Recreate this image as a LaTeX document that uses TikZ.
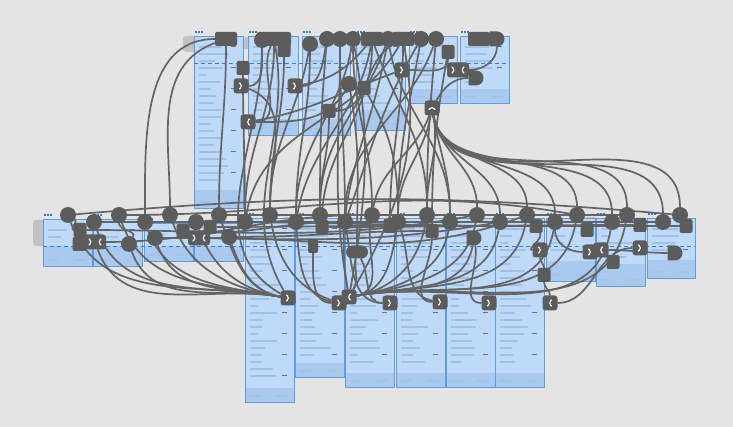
\documentclass[tikz,border=0pt]{standalone}
\usetikzlibrary{shapes.misc}

\definecolor{bgc}{HTML}{E4E4E4}
\definecolor{scr}{HTML}{BEDAF8}
\definecolor{scrfoot}{HTML}{AAC9EE}
\definecolor{scrline}{HTML}{5C9DE6}
\definecolor{guide}{HTML}{2F80E0}
\definecolor{bar}{HTML}{A3C1E5}
\definecolor{ink}{HTML}{66758A}
\definecolor{wire}{HTML}{646464}
\definecolor{knob}{HTML}{5C5C5C}
\definecolor{tag}{HTML}{C2C2C2}

\pgfdeclarelayer{base}
\pgfdeclarelayer{wires}
\pgfsetlayers{base,wires,main}

\tikzset{
  screen/.style={fill=scr, draw=none, inner sep=0pt, outer sep=0pt, rectangle, anchor=north west},
  wire/.style={draw=wire, line width=1.7pt},
  knob/.style={fill=knob, draw=none, inner sep=0pt, outer sep=0pt},
  kc/.style={knob, circle, minimum size=16pt},
  ks/.style={knob, rectangle, rounded corners=2pt, minimum width=13pt, minimum height=14pt},
  kw/.style={ks, minimum width=22pt},
  kd/.style={knob, rounded rectangle, rounded rectangle left arc=none, minimum width=15pt, minimum height=15pt},
  kp/.style={knob, rounded rectangle, minimum width=22pt, minimum height=13pt},
  hot/.style={knob, rectangle, rounded corners=3pt, minimum width=15pt, minimum height=15pt},
  glyph/.style={white, line width=1.1pt, line cap=round, line join=round},
  hotR/.style={hot, path picture={\draw[glyph] ([xshift=-1.5pt,yshift=3pt]path picture bounding box.center) -- ++(3pt,-3pt) -- ++(-3pt,-3pt);}},
  hotL/.style={hot, path picture={\draw[glyph] ([xshift=1.5pt,yshift=3pt]path picture bounding box.center) -- ++(-3pt,-3pt) -- ++(3pt,-3pt);}},
  hotU/.style={hot, path picture={\draw[glyph] ([xshift=-3pt,yshift=-1.5pt]path picture bounding box.center) -- ++(3pt,3pt) -- ++(3pt,-3pt);}},
  hotX/.style={hot, minimum width=22pt, path picture={
      \draw[glyph] ([xshift=-6pt,yshift=3pt]path picture bounding box.center) -- ++(3pt,-3pt) -- ++(-3pt,-3pt);
      \draw[glyph] ([xshift=6pt,yshift=3pt]path picture bounding box.center) -- ++(-3pt,-3pt) -- ++(3pt,-3pt);}},
}

% \screen{name}{left}{top}{width}{height}{footer height}
\newcommand\screen[6]{%
  \node[screen, minimum width=#4pt, minimum height=#5pt] (#1) at (#2,-#3) {};
  \fill[scrfoot] (#2,{-#3-#5+#6}) rectangle ({#2+#4},{-#3-#5});
  \pgfmathtruncatemacro\nbar{(#5-#6-10)/7}%
  \foreach \k in {1,...,\nbar}{%
    \pgfmathsetmacro\bw{(0.2+0.65*rnd)*(#4-12)}%
    \fill[bar] ({#2+5},{-#3-3-7*\k}) rectangle ++(\bw pt,-2pt);
    \pgfmathtruncatemacro\mm{mod(\k,3)}%
    \ifnum\mm=1 \fill[ink] ({#2+#4-12},{-#3-3-7*\k}) rectangle ++(5pt,-1pt);\fi
  }
  \fill[bar!70!scrfoot] ({#2+4},{-#3-#5+5}) rectangle ++(12pt,1.6pt);
  \fill[bar!70!scrfoot] ({#2+#4-18},{-#3-#5+5}) rectangle ++(12pt,1.6pt);
  \foreach \d in {1,4,7}{\fill[guide] ({#2+\d},{-#3+3}) rectangle ++(2pt,2pt);}
  \draw[scrline, line width=0.9pt] (#1.north west) rectangle (#1.south east);
}

\begin{document}
\begin{tikzpicture}[x=1pt,y=1pt]
\useasboundingbox (0,0) rectangle (733,-427);

\begin{pgfonlayer}{base}
  \fill[bgc] (0,0) rectangle (733,-427);
  \pgfmathsetseed{11}
  % flow start tags
  \fill[tag, rounded corners=3pt] (183,-36) rectangle (198,-52);
  \fill[tag, rounded corners=3pt] (236,-37) rectangle (250,-49);
  \fill[tag, rounded corners=3pt] (33,-220) rectangle (46,-246);
  \fill[tag, rounded corners=3pt] (282,-217) rectangle (298,-228);
  \fill[tag, rounded corners=3pt] (583,-217) rectangle (598,-232);
  % upper row of screens
  \screen{A1}{194}{36}{49}{172}{18}
  \screen{A2}{248}{36}{50}{99}{16}
  \screen{A3}{302}{36}{48}{99}{16}
  \screen{A4}{356}{36}{49}{94}{20}
  \screen{A5}{409}{36}{48}{67}{14}
  \screen{A6}{460}{36}{49}{67}{14}
  % lower row of screens
  \screen{B1}{43}{219}{49}{47}{20}
  \screen{B2}{93}{219}{49}{47}{20}
  \screen{B3}{144}{223}{49}{38}{15}
  \screen{B4}{194}{223}{49}{38}{15}
  \screen{T1}{245}{218}{49}{184}{14}
  \screen{T2}{295}{218}{49}{159}{14}
  \screen{T3}{345}{218}{49}{169}{14}
  \screen{T4}{396}{218}{49}{169}{14}
  \screen{T5}{446}{218}{49}{169}{14}
  \screen{T6}{495}{218}{49}{169}{14}
  \screen{S1}{546}{218}{49}{63}{20}
  \screen{S2}{596}{218}{49}{68}{22}
  \screen{S3}{647}{218}{48}{60}{18}
  % fold guides
  \draw[guide, line width=0.9pt, dash pattern=on 4pt off 3pt] (194,-63) -- (509,-63);
  \draw[guide, line width=0.9pt, dash pattern=on 4pt off 3pt] (43,-246) -- (695,-246);
\end{pgfonlayer}

% handles of the upper row
\node[kw] (t1) at (226,-39) {};
\node[ks] (t1b) at (243,-68) {};
\node[kc] (t2a) at (262,-40) {};
\node[kw, minimum width=34pt] (t2) at (274,-39) {};
\node[ks] (t2b) at (284,-50) {};
\node[kc] (t3) at (310,-44) {};
\node[kc] (t4) at (327,-39) {};
\node[kc] (t5) at (340,-39) {};
\node[kc] (t6) at (353,-39) {};
\node[kw] (t7) at (372,-39) {};
\node[kc] (t8) at (388,-39) {};
\node[kw] (t9) at (403,-39) {};
\node[kc] (t10) at (421,-39) {};
\node[kc] (t11) at (436,-39) {};
\node[ks] (t12) at (448,-52) {};
\node[kw] (t13) at (479,-39) {};
\node[kd] (t14) at (497,-39) {};
\node[kd] (t15) at (476,-78) {};
\node[kc] (m1) at (349,-84) {};
\node[ks] (m2) at (364,-88) {};
\node[ks] (m3) at (329,-111) {};
\node[hotR] (c1) at (241,-86) {};
\node[hotL] (c2) at (248,-122) {};
\node[hotR] (c3) at (295,-86) {};
\node[hotR] (c4) at (402,-70) {};
\node[hotX] (c5) at (458,-70) {};
\node[hotU] (c6) at (432,-108) {};

% handles of the lower row
\foreach \n/\x in {1/68,2/119,3/170,4/219,5/270,6/320,7/372,8/427,9/477,10/527,11/577,12/627,13/680}
  {\node[kc] (b\n) at (\x,-215) {};}
\foreach \n/\x in {1/94,2/145,3/196,4/245,5/296,6/345,7/398,8/450,9/500,10/555,11/612,12/663}
  {\node[kc] (e\n) at (\x,-222) {};}
\node[ks] (q1) at (80,-230) {};
\node[ks] (q2) at (79,-244) {};
\node[hotX] (x1) at (95,-242) {};
\node[kc] (q3) at (129,-244) {};
\node[kc] (q4) at (155,-238) {};
\node[ks] (q5) at (183,-231) {};
\node[hotX] (x2) at (199,-238) {};
\node[kc] (q6) at (229,-237) {};
\node[ks, minimum width=10pt] (q7) at (313,-246) {};
\node[kp] (q8) at (357,-252) {};
\node[ks] (q9) at (432,-231) {};
\node[kd] (q10) at (474,-238) {};
\node[ks] (q11) at (587,-230) {};
\node[ks] (q12) at (544,-275) {};
\node[ks] (q13) at (613,-262) {};
\node[kd] (q14) at (675,-253) {};
\node[ks] (q15) at (210,-227) {};
\node[ks] (q16) at (322,-227) {};
\node[ks] (q17) at (390,-226) {};
\node[ks] (q18) at (536,-226) {};
\node[ks] (q19) at (640,-225) {};
\node[ks] (q20) at (686,-226) {};
\node[hotR] (c9) at (288,-298) {};
\node[hotR] (c10) at (339,-303) {};
\node[hotL] (c10b) at (349,-297) {};
\node[hotR] (c11) at (390,-303) {};
\node[hotR] (c12) at (440,-302) {};
\node[hotR] (c13) at (489,-303) {};
\node[hotL] (c14) at (550,-303) {};
\node[hotR] (c15) at (540,-250) {};
\node[hotR] (c16) at (590,-252) {};
\node[hotL] (c17) at (601,-250) {};
\node[hotR] (c18) at (640,-248) {};

\begin{pgfonlayer}{wires}
  % links leaving the upper row
  \draw[wire] (t1) to[out=180,in=90] (e2);
  \draw[wire] (t1) to[out=200,in=90] (b3);
  \draw[wire] (t1) to[out=-90,in=90] (b4);
  \draw[wire] (t1b) to[out=-90,in=90] (e4);
  \draw[wire] (t2) to[out=-115,in=0] (c2);
  \draw[wire] (c2) to[out=0,in=-120] (m1);
  \draw[wire] (c2) to[out=10,in=200] (c4);
  \draw[wire] (c1) to[out=0,in=-90] (t2a);
  \draw[wire] (c3) to[out=0,in=-100] (t4);
  \draw[wire] (c3) to[out=10,in=-130] (t7);
  \draw[wire] (c4) to[out=0,in=-90] (t12);
  \draw[wire] (c5) to[out=0,in=-90] (t14);
  \draw[wire] (c6) to[out=60,in=180] (t15);
  \draw[wire] (m3) to[out=0,in=-150] (t9);
  \draw[wire] (t2b) to[out=-90,in=90] (b5);
  \draw[wire] (t3) to[out=-90,in=90] (e5);
  \draw[wire] (t4) to[out=-95,in=90] (b6);
  \draw[wire] (t5) to[out=-90,in=90] (e6);
  \draw[wire] (t6) to[out=-90,in=90] (b7);
  \draw[wire] (t7) to[out=-100,in=80] (e5);
  \draw[wire] (t8) to[out=-110,in=90] (b6);
  \draw[wire] (t9) to[out=-120,in=80] (e4);
  \draw[wire] (t10) to[out=-100,in=90] (e7);
  \draw[wire] (t11) to[out=-95,in=90] (b8);
  \draw[wire] (t2a) to[out=-90,in=150] (c9);
  \draw[wire] (t2) to[out=-80,in=120] (c9);
  \draw[wire] (t5) to[out=-90,in=100] (c10b);
  \draw[wire] (t6) to[out=-80,in=80] (c10b);
  \draw[wire] (m1) to[out=-80,in=90] (q8);
  \draw[wire] (m2) to[out=-60,in=90] (e7);
  \draw[wire] (m3) to[out=-90,in=90] (b6);
  \draw[wire] (t7) to[out=-70,in=90] (b8);
  \draw[wire] (t9) to[out=-80,in=60] (c10b);
  \draw[wire] (t10) to[out=-120,in=70] (e6);
  \draw[wire] (t8) to[out=-80,in=90] (e8);
  \draw[wire] (t12) to[out=-100,in=90] (q9);
  \draw[wire] (t3) to[out=-100,in=90] (b5);
  \draw[wire] (t6) to[out=-100,in=90] (e5);
  \draw[wire] (t7) to[out=-90,in=90] (q16);
  \draw[wire] (t8) to[out=-100,in=100] (c10b);
  \draw[wire] (t2) to[out=-90,in=90] (e4);
  \draw[wire] (t9) to[out=-90,in=90] (q17);
  \draw[wire] (t11) to[out=-110,in=90] (e6);
  \draw[wire] (c1) to[out=-20,in=90] (b5);
  % fan from the scroll hotspot
  \foreach \tg in {b8,e8,b9,e9,b10,e10,b11,e11,b12,e12,b13}
    {\draw[wire] (c6) to[out=-80,in=90] (\tg);}
  \draw[wire] (c6) to[out=-100,in=90] (e7);
  \draw[wire] (c6) to[out=-110,in=80] (b7);
  % links converging on the lower hotspots
  \foreach \src in {b1,e1,b2,e2,b3,e3,b4,q3,q4,q6,x1}
    {\draw[wire] (\src) to[out=-70,in=170] (c9);}
  \foreach \src in {b8,e8,b9,e9,b10,e10,b11,e11,b12,q10,e7,b7}
    {\draw[wire] (\src) to[out=-100,in=10] (c10b);}
  \draw[wire] (q7) to[out=-90,in=180] (c10);
  \draw[wire] (e5) to[out=-85,in=170] (c10);
  \draw[wire] (b5) to[out=-80,in=160] (c10);
  \draw[wire] (e6) to[out=-80,in=180] (c11);
  \draw[wire] (q8) to[out=-60,in=180] (c11);
  \draw[wire] (q9) to[out=-90,in=180] (c12);
  \draw[wire] (e7) to[out=-70,in=170] (c12);
  \draw[wire] (q10) to[out=-80,in=180] (c13);
  \draw[wire] (q8) to[out=-100,in=60] (c10b);
  % links around the small screens on the right
  \draw[wire] (c15) to[out=-90,in=90] (q12);
  \draw[wire] (q12) to[out=-90,in=90] (c14);
  \draw[wire] (c14) to[out=0,in=180] (c18);
  \draw[wire] (q14) to[out=180,in=0] (c17);
  \draw[wire] (e10) to[out=-90,in=180] (c16);
  \draw[wire] (q18) to[out=-60,in=180] (c15);
  % band of links along the lower row
  \draw[wire] (b1) to[out=5,in=175] (b13);
  \draw[wire] (e1) to[out=0,in=180] (e12);
  \draw[wire] (q1) to[out=0,in=190] (b9);
  \draw[wire] (x1) to[out=0,in=180] (b7);
  \draw[wire] (q4) to[out=0,in=190] (e9);
  \draw[wire] (q5) to[out=-5,in=180] (e6);
  \draw[wire] (x2) to[out=0,in=200] (b10);
  \draw[wire] (q6) to[out=0,in=180] (q9);
  \draw[wire] (b2) to[out=0,in=170] (b11);
  \draw[wire] (e3) to[out=0,in=180] (q18);
  \draw[wire] (q16) to[out=0,in=180] (q19);
  \draw[wire] (q17) to[out=0,in=180] (q20);
  \draw[wire] (b4) to[out=0,in=180] (b12);
  \draw[wire] (q15) to[out=0,in=180] (q17);
  \draw[wire] (b1) to[out=-30,in=180] (q1);
  \draw[wire] (b2) to[out=-90,in=60] (q3);
\end{pgfonlayer}
\end{tikzpicture}
\end{document}
